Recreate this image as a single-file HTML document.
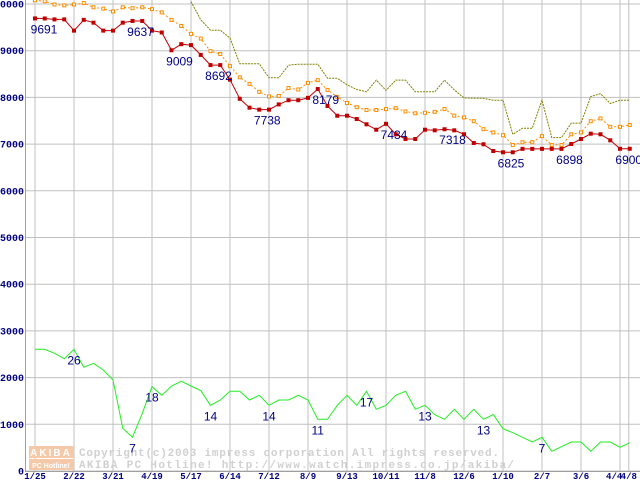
<!DOCTYPE html>
<html><head><meta charset="utf-8"><style>
body{margin:0;background:#fff;width:640px;height:480px;overflow:hidden}
svg{display:block}
</style></head><body>
<svg id="chart" width="640" height="480" xmlns="http://www.w3.org/2000/svg">
<g id="grid"></g>
<g id="wm">
<rect x="29" y="446" width="45" height="12" fill="#f5c9a8"/>
<rect x="29" y="459" width="45" height="11" fill="#f5c9a8"/>
<text x="51" y="456" font-family="Liberation Sans, sans-serif" font-weight="bold" font-size="10" fill="#fff" text-anchor="middle" letter-spacing="2">AKIBA</text>
<text x="51" y="468" font-family="Liberation Sans, sans-serif" font-weight="bold" font-size="7" fill="#fff" text-anchor="middle">PC Hotline!</text>
<text x="79" y="456" font-family="Liberation Mono, monospace" font-weight="bold" font-size="11" fill="#d0d0d0" textLength="420">Copyright(c)2003 impress corporation All rights reserved.</text>
<text x="79" y="468" font-family="Liberation Mono, monospace" font-weight="bold" font-size="11" fill="#d0d0d0" textLength="435">AKIBA PC Hotline!  http://www.watch.impress.co.jp/akiba/</text>
</g>
<g id="series"></g>
<g id="labels"></g>
</svg>
<script>
const xTickLabels=["1/25","2/22","3/21","4/19","5/17","6/14","7/12","8/9","9/13","10/11","11/8","12/6","1/10","2/7","3/6","4/4","4/8"];
const xTickPos=[0,4,8,12,16,20,24,28,32,36,40,44,48,52,56,60,60.9];
const yTicks=[0,1000,2000,3000,4000,5000,6000,7000,8000,9000,10000];
const lowPrice=[9691,9690,9670,9670,9430,9660,9600,9430,9430,9600,9637,9637,9430,9390,9009,9140,9120,8910,8692,8692,8380,7970,7780,7738,7738,7850,7940,7940,7990,8179,7816,7608,7608,7537,7424,7308,7434,7210,7109,7109,7308,7295,7318,7295,7210,7024,6996,6852,6825,6825,6898,6898,6898,6898,6898,7002,7109,7223,7210,7081,6900,6900];
const avgPrice=[10080,10060,9990,9970,9990,10020,9930,9900,9840,9930,9910,9930,9890,9820,9660,9530,9360,9260,8990,8930,8670,8430,8290,8120,8020,8030,8200,8170,8310,8370,8160,8010,7880,7790,7730,7730,7750,7770,7700,7660,7670,7690,7750,7610,7570,7490,7320,7250,7190,6980,7040,7040,7170,6980,6980,7210,7250,7490,7550,7370,7370,7410];
const highStart=16;
const highPrice=[10050,9660,9440,9440,9270,8720,8720,8720,8420,8420,8690,8710,8710,8710,8410,8410,8270,8170,8120,8370,8150,8370,8370,8120,8120,8120,8370,8160,7990,7980,7980,7940,7940,7210,7340,7340,7940,7140,7140,7450,7450,8020,8080,7870,7940,7940];
const shopCount=[2606,2606,2520,2405,2606,2220,2306,2163,1950,912,722,1235,1805,1620,1820,1920,1820,1720,1407,1520,1707,1707,1520,1620,1407,1520,1520,1620,1520,1107,1107,1407,1620,1407,1707,1321,1407,1620,1707,1321,1407,1206,1107,1321,1107,1321,1107,1210,906,820,722,621,722,422,520,621,621,422,621,621,507,606];
const priceLabelIdx=[0,10,14,18,23,29,36,42,48,54,61];
const priceLabelText=["9691","9637","9009","8692","7738","8179","7434","7318","6825","6898","6900"];
const countLabelIdx=[4,10,12,18,24,29,34,40,46,52];
const countLabelText=["26","7","18","14","14","11","17","13","13","7"];

const NS="http://www.w3.org/2000/svg";
const X=i=>35+i*9.75;
const Y=v=>471-v*0.0467;
function mk(tag,attrs,parent){const e=document.createElementNS(NS,tag);for(const k in attrs)e.setAttribute(k,attrs[k]);parent.appendChild(e);return e;}
const grid=document.getElementById('grid'),ser=document.getElementById('series'),lab=document.getElementById('labels');

yTicks.forEach(v=>{
 const l=mk('line',{x1:25,x2:640,y1:Y(v),y2:Y(v),stroke:'#c0c0c0','stroke-width':1},grid);
 
 
 const t=mk('text',{x:24,y:Y(v)+3.5,'text-anchor':'end','font-family':'Liberation Mono, monospace','font-weight':'bold','font-size':10,fill:'#000080'},grid);
 t.textContent=String(v);
 
 
});
xTickPos.forEach((p,k)=>{
 const l=mk('line',{x1:X(p),x2:X(p),y1:0,y2:471,stroke:'#c0c0c0','stroke-width':1},grid);
 
 
 if(k<xTickLabels.length-2||k===xTickLabels.length-1){
 const t=mk('text',{x:X(p),y:479,'text-anchor':'middle','font-family':'Liberation Mono, monospace','font-weight':'bold','font-size':9,fill:'#000080'},grid);
 t.textContent=xTickLabels[k];
 
 
 }
});
{const t=mk('text',{x:X(59.4),y:479,'text-anchor':'middle','font-family':'Liberation Mono, monospace','font-weight':'bold','font-size':9,fill:'#000080'},grid);t.textContent=xTickLabels[15];

}
const ax=mk('line',{x1:25.5,x2:25.5,y1:0,y2:471,stroke:'#a0a0a0'},grid);


const bx=mk('line',{x1:25,x2:640,y1:471.5,y2:471.5,stroke:'#a0a0a0'},grid);



function line(arr,start,attrs,name){
 const pts=arr.map((v,i)=>X(i+start).toFixed(1)+','+Y(v).toFixed(1)).join(' ');
 const p=mk('polyline',Object.assign({points:pts,fill:'none'},attrs),ser);
 
 
}
line(highPrice,highStart,{stroke:'#808000','stroke-width':1,'stroke-dasharray':'2,1'},'high-price-line');
line(avgPrice,0,{stroke:'#ff8c00','stroke-width':1,'stroke-dasharray':'2,2'},'avg-price-line');
avgPrice.forEach((v,i)=>{const r=mk('rect',{x:X(i)-1.5,y:Y(v)-1.5,width:3,height:3,fill:'#fff',stroke:'#ff8c00','stroke-width':1},ser);
 
 });
line(lowPrice,0,{stroke:'#c00000','stroke-width':1},'low-price-line');
lowPrice.forEach((v,i)=>{const r=mk('rect',{x:X(i)-2,y:Y(v)-2,width:4,height:4,fill:'#c00000'},ser);
 
 });
line(shopCount,0,{stroke:'#22ee22','stroke-width':1},'shop-count-line');

priceLabelIdx.forEach((i,k)=>{
 const t=mk('text',{x:X(i)+(i===61?-1:(i===0?9:8)),y:Y(lowPrice[i])+15,'text-anchor':'middle','font-family':'Liberation Sans, sans-serif','font-size':12,fill:'#000080'},lab);
 t.textContent=priceLabelText[k];
 
 
});
countLabelIdx.forEach((i,k)=>{
 const t=mk('text',{x:X(i),y:Y(shopCount[i])+15,'text-anchor':'middle','font-family':'Liberation Sans, sans-serif','font-size':12,fill:'#000080'},lab);
 t.textContent=countLabelText[k];
 
 
});
</script>
</body></html>
